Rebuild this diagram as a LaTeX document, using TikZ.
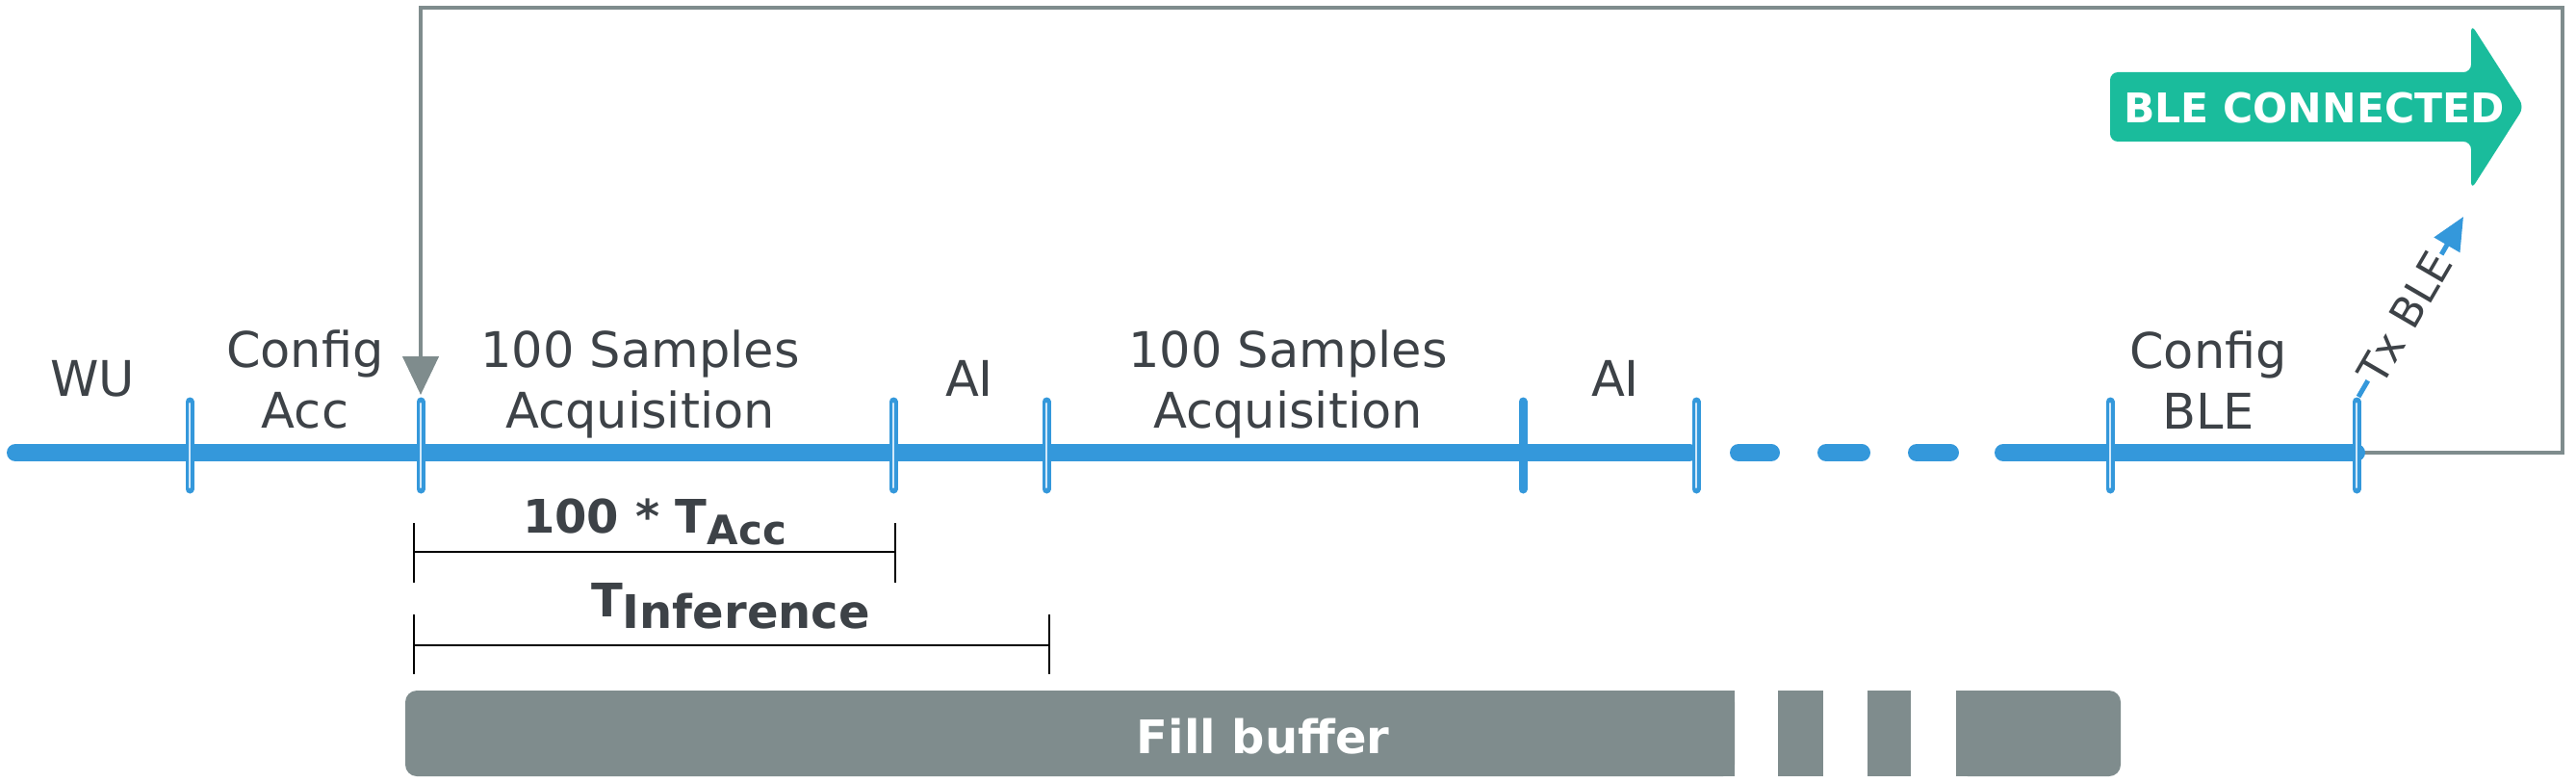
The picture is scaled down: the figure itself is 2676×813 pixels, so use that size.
\documentclass[tikz,border=0pt]{standalone}
\usepackage{fontspec}
\setmainfont{DejaVu Sans}
\usetikzlibrary{arrows.meta,calc}
\definecolor{flatblue}{HTML}{3498DB}
\definecolor{flatgray}{HTML}{7F8C8D}
\definecolor{flatgreen}{HTML}{1ABC9C}
\definecolor{txt}{HTML}{3D4247}
\definecolor{ticklight}{HTML}{D2E8F9}
\begin{document}
\begin{tikzpicture}[x=1pt,y=-1pt,
  lab/.style={font=\fontsize{51}{63}\selectfont, text=txt, align=center, inner sep=0pt, text depth=0pt, anchor=south},
  meas/.style={font=\fontsize{48}{58}\selectfont\bfseries, text=txt, inner sep=0pt, anchor=base},
  mainline/.style={draw=flatblue, line width=18pt, line cap=round},
  tickout/.style={draw=flatblue, line width=9pt, line cap=round},
  tickin/.style={draw=ticklight, line width=2.5pt, line cap=round},
  loopline/.style={draw=flatgray, line width=4.5pt, -{Triangle[length=40pt,width=37pt]}},
  txarrow/.style={draw=flatblue, line width=5pt, -{Triangle[length=34pt,width=30pt]}},
  bracket/.style={draw=black, line width=2pt},
  bar/.style={fill=flatgray}
]
\useasboundingbox (0,0) rectangle (2676,813);
% tick coordinates on the time line
\foreach \i/\x in {1/197,2/437,3/928,4/1087,5/1582,6/1762,7/2192,8/2448}{
  \coordinate (t\i) at (\x,470);
}
\coordinate (loopR1) at (2662,470);
\coordinate (loopR2) at (2662,8);
\coordinate (loopL) at (437,8);
\coordinate (looptip) at (437,410);
% feedback loop
\draw[loopline] (t8) -- (loopR1) -- (loopR2) -- (loopL) -- (looptip);
% main time line
\coordinate (start) at (16,470);
\draw[mainline] (start) -- (1755,470);
\draw[mainline] (1806,470) -- (1840,470);
\draw[mainline] (1897,470) -- (1934,470);
\draw[mainline] (1991,470) -- (2026,470);
\draw[mainline] (2081,470) -- (t8);
% ticks
\foreach \i in {1,2,3,4,6,7,8}{
  \draw[tickout] ($(t\i)+(0,-53)$) -- ($(t\i)+(0,38)$);
  \draw[tickin] ($(t\i)+(0,-51)$) -- ($(t\i)+(0,36)$);
}
\draw[tickout] ($(t5)+(0,-53)$) -- ($(t5)+(0,38)$);
% labels
\node[lab] (wu) at (96,412) {WU};
\node[lab] (cfgacc) at (317,445) {Config\\Acc};
\node[lab] (acq1) at (665,445) {100 Samples\\Acquisition};
\node[lab] (ai1) at (1007,412) {AI};
\node[lab] (acq2) at (1338,445) {100 Samples\\Acquisition};
\node[lab] (ai2) at (1678,412) {AI};
\node[lab] (cfgble) at (2294,446) {Config\\BLE};
% BLE connected arrow
\fill[flatgreen, rounded corners=8pt] (2622,111) -- (2567,25) -- (2567,75) -- (2192,75) -- (2192,147) -- (2567,147) -- (2567,197) -- cycle;
\node[font=\fontsize{42.5}{50}\selectfont\bfseries, text=white, inner sep=0pt, anchor=base] (ble) at (2404,128) {BLE CONNECTED};
% Tx BLE arrow
\coordinate (t8top) at (2450,412);
\coordinate (txend) at (2559,225);
\draw[txarrow] (t8top) -- node[pos=0.44, sloped, fill=white, inner sep=1pt, font=\fontsize{44}{50}\selectfont, text=txt] (txble) {Tx BLE} (txend);
% measurement brackets
\coordinate (b1l) at (430,573);
\coordinate (b1r) at (930,573);
\coordinate (b2l) at (430,670);
\coordinate (b2r) at (1090,670);
\draw[bracket] (b1l) -- (b1r);
\draw[bracket] ($(b1l)+(0,-30)$) -- ($(b1l)+(0,32)$);
\draw[bracket] ($(b1r)+(0,-30)$) -- ($(b1r)+(0,32)$);
\draw[bracket] (b2l) -- (b2r);
\draw[bracket] ($(b2l)+(0,-32)$) -- ($(b2l)+(0,30)$);
\draw[bracket] ($(b2r)+(0,-32)$) -- ($(b2r)+(0,30)$);
\node[meas] (tacc) at (680,553) {100 * T\raisebox{-12pt}{\fontsize{42}{50}\selectfont Acc}};
\node[meas] (tinf) at (759,640) {T\raisebox{-12pt}{Inference}};
% fill buffer bars
\fill[bar, rounded corners=12pt] (421,717) rectangle (1802,806);
\fill[bar] (1770,717) rectangle (1802,806);
\fill[bar] (1847,717) rectangle (1894,806);
\fill[bar] (1940,717) rectangle (1985,806);
\fill[bar, rounded corners=12pt] (2032,717) rectangle (2203,806);
\fill[bar] (2032,717) rectangle (2064,806);
\node[font=\fontsize{48}{58}\selectfont\bfseries, text=white, inner sep=0pt, anchor=base] (fill) at (1312,782) {Fill buffer};
\end{tikzpicture}
\end{document}
